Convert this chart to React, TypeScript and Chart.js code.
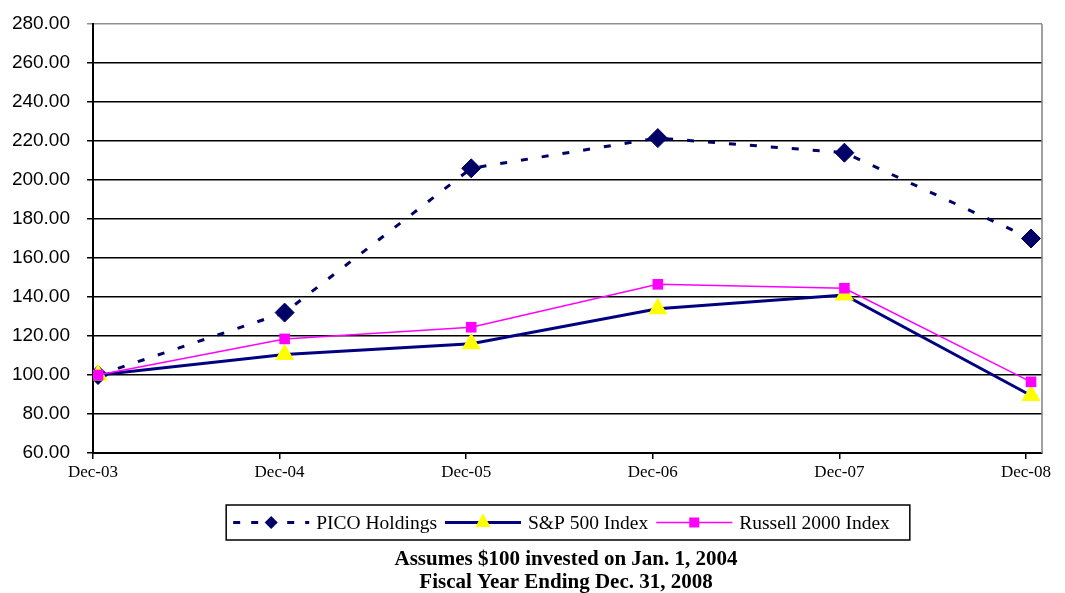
import React, { useEffect, useRef } from "react";
import { Chart, registerables } from "chart.js";

Chart.register(...registerables);

const categories = ["Dec-03", "Dec-04", "Dec-05", "Dec-06", "Dec-07", "Dec-08"];
const picoHoldings = [100, 132, 206, 221.5, 214, 170];
const sp500Index = [100, 110.5, 116, 134, 141, 89.5];
const russell2000Index = [100, 118.5, 124.5, 146.5, 144.5, 96.5];
const yMin = 60;
const yMax = 280;
const yStep = 20;
const seriesNames = ["PICO Holdings", "S&P 500 Index", "Russell 2000 Index"];
const footnotes = ["Assumes $100 invested on Jan. 1, 2004", "Fiscal Year Ending Dec. 31, 2008"];

const PICO_COLOR = "#000066";
const SP_COLOR = "#000080";
const SP_MARKER = "#FFFF00";
const RUSSELL_COLOR = "#FF00FF";

function drawMarker(ctx: CanvasRenderingContext2D, kind: string, x: number, y: number, r: number, color: string) {
  ctx.save();
  ctx.fillStyle = color;
  ctx.setLineDash([]);
  ctx.beginPath();
  if (kind === "diamond") {
    ctx.moveTo(x, y - r);
    ctx.lineTo(x + r, y);
    ctx.lineTo(x, y + r);
    ctx.lineTo(x - r, y);
  } else if (kind === "triangle") {
    ctx.moveTo(x, y - r);
    ctx.lineTo(x + r * 0.866, y + r * 0.5);
    ctx.lineTo(x - r * 0.866, y + r * 0.5);
  } else {
    ctx.rect(x - r, y - r, 2 * r, 2 * r);
  }
  ctx.closePath();
  ctx.fill();
  ctx.restore();
}

const decorPlugin = {
  id: "decor",
  afterDraw(chart: any) {
    const ctx: CanvasRenderingContext2D = chart.ctx;
    const area = chart.chartArea;
    ctx.save();
    // right plot border
    ctx.strokeStyle = "#808080";
    ctx.lineWidth = 1.5;
    ctx.beginPath();
    ctx.moveTo(area.right, area.top);
    ctx.lineTo(area.right, area.bottom);
    ctx.stroke();

    // legend
    const items = [
      { label: seriesNames[0], color: PICO_COLOR, width: 3, dash: [7, 11], marker: "diamond", mr: 6.5, mc: PICO_COLOR },
      { label: seriesNames[1], color: SP_COLOR, width: 3, dash: [], marker: "triangle", mr: 9, mc: SP_MARKER },
      { label: seriesNames[2], color: RUSSELL_COLOR, width: 1.5, dash: [], marker: "square", mr: 5, mc: RUSSELL_COLOR },
    ];
    ctx.font = '19.5px "Liberation Serif"';
    const lineLen = 76;
    const gapLT = 7;
    const gapItems = 8;
    const padL = 7;
    const padR = 20;
    const widths = items.map((it) => lineLen + gapLT + ctx.measureText(it.label).width);
    const total = padL + widths.reduce((a, b) => a + b, 0) + gapItems * (items.length - 1) + padR;
    const centerX = 568;
    const boxLeft = centerX - total / 2;
    const boxTop = 505;
    const boxH = 35;
    const cy = boxTop + boxH / 2;
    ctx.strokeStyle = "#000";
    ctx.lineWidth = 1.5;
    ctx.strokeRect(boxLeft, boxTop, total, boxH);
    let x = boxLeft + padL;
    items.forEach((it, i) => {
      ctx.save();
      ctx.strokeStyle = it.color;
      ctx.lineWidth = it.width;
      ctx.setLineDash(it.dash);
      ctx.beginPath();
      ctx.moveTo(x, cy);
      ctx.lineTo(x + lineLen, cy);
      ctx.stroke();
      ctx.restore();
      drawMarker(ctx, it.marker, x + lineLen / 2, cy, it.mr, it.mc);
      ctx.fillStyle = "#000";
      ctx.textBaseline = "middle";
      ctx.textAlign = "left";
      ctx.fillText(it.label, x + lineLen + gapLT, cy + 1);
      x += widths[i] + gapItems;
    });

    // footnotes
    ctx.font = 'bold 21px "Liberation Serif"';
    ctx.textAlign = "center";
    ctx.textBaseline = "alphabetic";
    ctx.fillStyle = "#000";
    ctx.fillText(footnotes[0], 566, 565);
    ctx.fillText(footnotes[1], 566, 588);
    ctx.restore();
  },
};

export default function App() {
  const ref = useRef<HTMLCanvasElement>(null);

  useEffect(() => {
    document.body.style.margin = "0";
    const canvas = ref.current;
    if (!canvas) return;
    const toPoints = (arr: number[]) => arr.map((v, i) => ({ x: i, y: v }));

    const chart = new Chart(canvas, {
      type: "line",
      data: {
        datasets: [
          {
            label: seriesNames[0],
            data: toPoints(picoHoldings),
            xAxisID: "xp",
            borderColor: PICO_COLOR,
            borderWidth: 3,
            borderDash: [7, 14],
            pointStyle: "rectRot",
            pointRadius: 9.5,
            pointBackgroundColor: PICO_COLOR,
            pointBorderColor: PICO_COLOR,
            pointBorderWidth: 1,
            order: 2,
          },
          {
            label: seriesNames[1],
            data: toPoints(sp500Index),
            xAxisID: "xp",
            borderColor: SP_COLOR,
            borderWidth: 3,
            pointStyle: "triangle",
            pointRadius: 11,
            pointBackgroundColor: SP_MARKER,
            pointBorderColor: SP_MARKER,
            pointBorderWidth: 0,
            order: 1,
          },
          {
            label: seriesNames[2],
            data: toPoints(russell2000Index),
            xAxisID: "xp",
            borderColor: RUSSELL_COLOR,
            borderWidth: 1.5,
            pointStyle: "rect",
            pointRadius: 7.5,
            pointBackgroundColor: RUSSELL_COLOR,
            pointBorderColor: RUSSELL_COLOR,
            pointBorderWidth: 0,
            order: 0,
          },
        ] as any,
      },
      options: {
        animation: false,
        responsive: true,
        maintainAspectRatio: false,
        layout: { padding: { top: 24, right: 23, left: 0, bottom: 0 } },
        plugins: {
          legend: { display: false },
          tooltip: { enabled: false },
        },
        scales: {
          x: {
            type: "linear",
            position: "bottom",
            min: 0,
            max: 5.086,
            afterBuildTicks: (scale: any) => {
              scale.ticks = categories.map((_, i) => ({ value: i }));
            },
            afterFit: (scale: any) => {
              scale.height = 140;
              scale.paddingLeft = 0;
              scale.paddingRight = 0;
            },
            ticks: {
              callback: (v: any) => categories[v as number] ?? "",
              color: "#000",
              font: { family: "Liberation Serif", size: 17 },
              padding: 3,
              maxRotation: 0,
              autoSkip: false,
            },
            grid: {
              drawOnChartArea: false,
              drawTicks: true,
              tickLength: 6,
              color: "#000",
              lineWidth: 1.5,
            },
            border: { color: "#000", width: 2 },
          },
          xp: {
            type: "linear",
            display: false,
            min: -0.027,
            max: 5.059,
          },
          y: {
            type: "linear",
            min: yMin,
            max: yMax,
            afterFit: (scale: any) => {
              scale.width = 93;
              scale.paddingTop = 0;
              scale.paddingBottom = 0;
            },
            ticks: {
              stepSize: yStep,
              callback: (v: any) => Number(v).toFixed(2),
              color: "#000",
              font: { family: "Liberation Sans", size: 19 },
              padding: 17,
            },
            grid: {
              color: (c: any) => (c.tick && c.tick.value === yMax ? "#909090" : "#000"),
              lineWidth: 1.5,
              tickLength: 6,
            },
            border: { color: "#000", width: 2 },
          },
        } as any,
      },
      plugins: [decorPlugin],
    });

    return () => chart.destroy();
  }, []);

  return (
    <div style={{ width: 1065, height: 593, position: "relative" }}>
      <canvas ref={ref} />
    </div>
  );
}
